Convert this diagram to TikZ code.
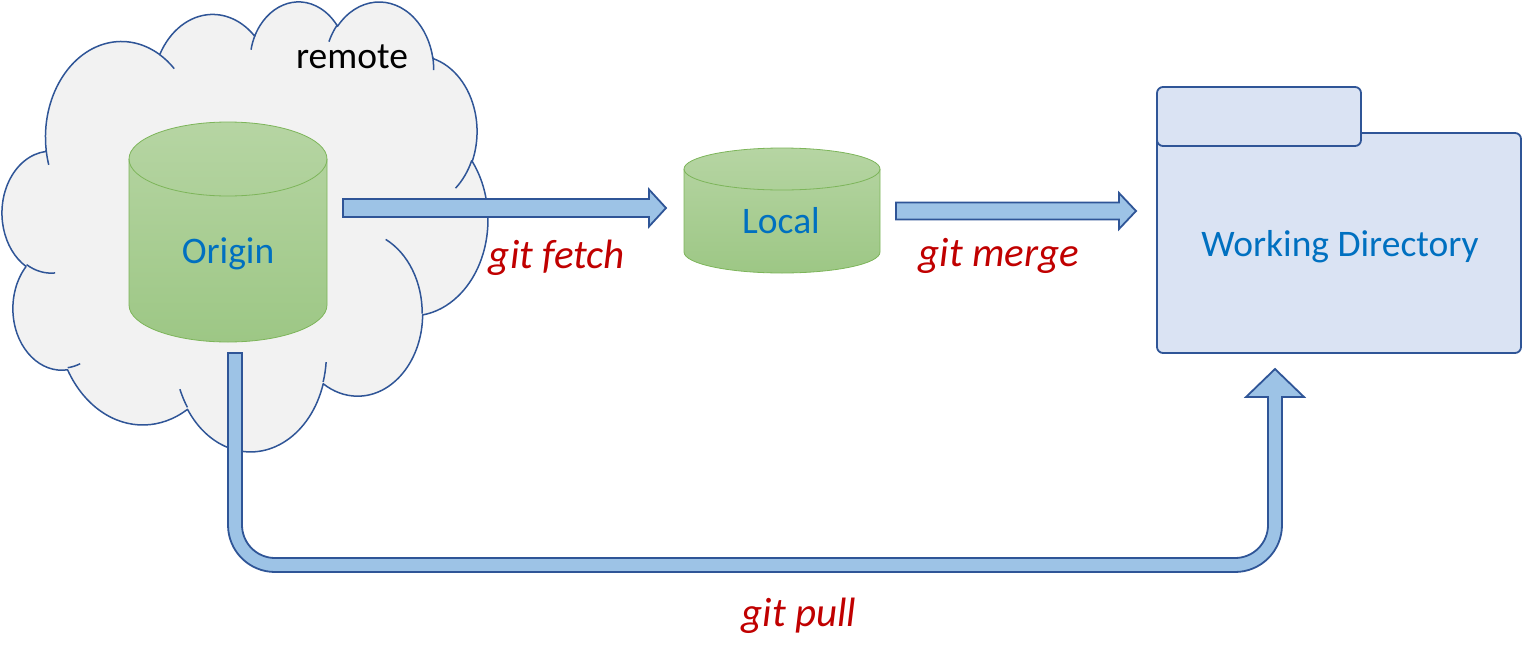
\documentclass[tikz,border=0pt]{standalone}
\usepackage{fontspec}
\setmainfont{Carlito}
\usetikzlibrary{calc}
\definecolor{cloudfill}{HTML}{F2F2F2}
\definecolor{navy}{HTML}{2F5597}
\definecolor{arrowfill}{HTML}{9DC3E6}
\definecolor{foldfill}{HTML}{DAE3F3}
\definecolor{txtblue}{HTML}{0070C0}
\definecolor{txtred}{HTML}{C00000}
\definecolor{cyltop}{HTML}{B6D5A3}
\definecolor{cylbot}{HTML}{9DC785}
\definecolor{cylline}{HTML}{7DB55A}
\begin{document}
\begin{tikzpicture}[x=1pt,y=1pt,
 cloudline/.style={draw=navy, line width=1.5pt},
 blockarrow/.style={draw=navy, fill=arrowfill, line width=1.8pt, line join=miter},
 cylbody/.style={top color=cyltop, bottom color=cylbot, draw=cylline, line width=0.8pt},
 cylrim/.style={draw=cylline, line width=0.8pt},
 lbl/.style={font=\fontsize{37.5}{42}\selectfont, text=txtblue, inner sep=0pt, anchor=base},
 cmd/.style={font=\fontsize{41}{46}\selectfont\itshape, text=txtred, inner sep=0pt, anchor=base},
 folder/.style={draw=navy, fill=foldfill, line width=1.8pt, rounded corners=6pt}]
\useasboundingbox (0,0) rectangle (1522,-664);
% ---- cloud (preset cloud geometry, y downwards in shape units)
\begin{scope}[shift={(2.38,-0.54)}, x=0.011236pt, y=-0.010413pt]
\path[fill=cloudfill, cloudline, line join=round] (3900,14370)
  arc[start angle=187.746, end angle=59.63, x radius=75.88pt, y radius=95.70pt]
  arc[start angle=152.04, end angle=45.45, x radius=59.92pt, y radius=75.67pt]
  arc[start angle=153.49, end angle=37.33, x radius=49.04pt, y radius=61.91pt]
  arc[start angle=139.71, end angle=10.21, x radius=54.57pt, y radius=68.67pt]
  arc[start angle=74.77, end angle=-23.21, x radius=59.92pt, y radius=75.73pt]
  arc[start angle=37.52, end angle=-81.86, x radius=76.12pt, y radius=96.01pt]
  arc[start angle=-0.4596, end angle=-121.98, x radius=65.00pt, y radius=81.92pt]
  arc[start angle=-16.84, end angle=-146.23, x radius=75.87pt, y radius=95.96pt]
  arc[start angle=-58.98, end angle=-150.19, x radius=86.74pt, y radius=109.78pt]
  arc[start angle=276.69, end angle=136.89, x radius=48.99pt, y radius=61.62pt]
  arc[start angle=239.64, end angle=95.89, x radius=48.82pt, y radius=61.91pt]
  -- cycle;
\draw[cloudline] (4693,26177) arc[start angle=-85.55, end angle=-120.36, x radius=48.82pt, y radius=61.91pt];
\draw[cloudline] (6928,34899) arc[start angle=-68.23, end angle=-83.31, x radius=48.99pt, y radius=61.62pt];
\draw[cloudline] (16478,39090) arc[start angle=-146.23, end angle=-158.47, x radius=75.87pt, y radius=95.96pt];
\draw[cloudline] (28827,34751) arc[start angle=-4.737, end angle=-16.84, x radius=75.87pt, y radius=95.96pt];
\draw[cloudline] (34129,22954) arc[start angle=64.03, end angle=-0.4596, x radius=65.00pt, y radius=81.92pt];
\draw[cloudline] (41798,15354) arc[start angle=-23.21, end angle=-49.65, x radius=59.92pt, y radius=75.73pt];
\draw[cloudline] (38324,5426) arc[start angle=10.21, end angle=-0.821, x radius=54.57pt, y radius=68.67pt];
\draw[cloudline] (29078,3952) arc[start angle=156.29, end angle=139.71, x radius=54.57pt, y radius=68.67pt];
\draw[cloudline] (22141,4720) arc[start angle=167.73, end angle=153.49, x radius=49.04pt, y radius=61.91pt];
\draw[cloudline] (14000,5192) arc[start angle=59.63, end angle=45.73, x radius=75.88pt, y radius=95.70pt];
\draw[cloudline] (4127,15789) arc[start angle=-163.20, end angle=-172.254, x radius=75.88pt, y radius=95.70pt];
\end{scope}
\node[font=\fontsize{37.5}{42}\selectfont, text=black, inner sep=0pt, anchor=base] (remote) at (352,-68) {remote};
% ---- Origin cylinder
\path[cylbody] (129,-159) -- (129,-305) arc[start angle=180,end angle=360,x radius=99,y radius=37] -- (327,-159) arc[start angle=0,end angle=180,x radius=99,y radius=37] -- cycle;
\draw[cylrim] (129,-159) arc[start angle=180,end angle=360,x radius=99,y radius=37];
\node[lbl] (origin) at (228,-263) {Origin};
% ---- Local cylinder
\path[cylbody] (684,-169) -- (684,-252) arc[start angle=180,end angle=360,x radius=98,y radius=21] -- (880,-169) arc[start angle=0,end angle=180,x radius=98,y radius=21] -- cycle;
\draw[cylrim] (684,-169) arc[start angle=180,end angle=360,x radius=98,y radius=21];
\node[lbl] (local) at (781,-233) {Local};
% ---- folder
\path[folder] (1157,-133) rectangle (1521,-353);
\path[folder] (1157,-87) rectangle (1361,-146);
\node[lbl] (wd) at (1340,-256) {Working Directory};
% ---- arrows
\coordinate (fS) at (343,-208);
\coordinate (fE) at (666,-208);
\coordinate (mS) at (896,-211);
\coordinate (mE) at (1136,-211);
\coordinate (pS) at (235,-353);
\coordinate (pE) at (1275,-369);
\coordinate (pB) at (0,-565);
\draw[blockarrow] let \p1=(fS), \p2=(fE) in
  (\x1,{\y1+9pt}) -- ({\x2-17pt},{\y1+9pt}) -- ({\x2-17pt},{\y1+18.5pt}) -- (\x2,\y2)
  -- ({\x2-17pt},{\y1-18.5pt}) -- ({\x2-17pt},{\y1-9pt}) -- (\x1,{\y1-9pt}) -- cycle;
\draw[blockarrow] let \p1=(mS), \p2=(mE) in
  (\x1,{\y1+8.5pt}) -- ({\x2-17pt},{\y1+8.5pt}) -- ({\x2-17pt},{\y1+18pt}) -- (\x2,\y2)
  -- ({\x2-17pt},{\y1-18pt}) -- ({\x2-17pt},{\y1-8.5pt}) -- (\x1,{\y1-8.5pt}) -- cycle;
\draw[blockarrow] let \p1=(pS), \p2=(pE), \p3=(pB) in
  ({\x1-7pt},\y1) -- ({\x1-7pt},{\y3+40pt}) arc[start angle=180,end angle=270,radius=47]
  -- ({\x2-40pt},{\y3-7pt}) arc[start angle=270,end angle=360,radius=47]
  -- ({\x2+7pt},{\y2-28pt}) -- ({\x2+29pt},{\y2-28pt}) -- (\x2,\y2) -- ({\x2-29pt},{\y2-28pt})
  -- ({\x2-7pt},{\y2-28pt}) -- ({\x2-7pt},{\y3+40pt}) arc[start angle=0,end angle=-90,radius=33]
  -- ({\x1+40pt},{\y3+7pt}) arc[start angle=270,end angle=180,radius=33] -- ({\x1+7pt},\y1) -- cycle;
% ---- labels
\node[cmd] (fetch) at (557,-268) {git fetch};
\node[cmd] (merge) at (999,-266) {git merge};
\node[cmd] (pull) at (799,-626) {git pull};
\end{tikzpicture}
\end{document}
